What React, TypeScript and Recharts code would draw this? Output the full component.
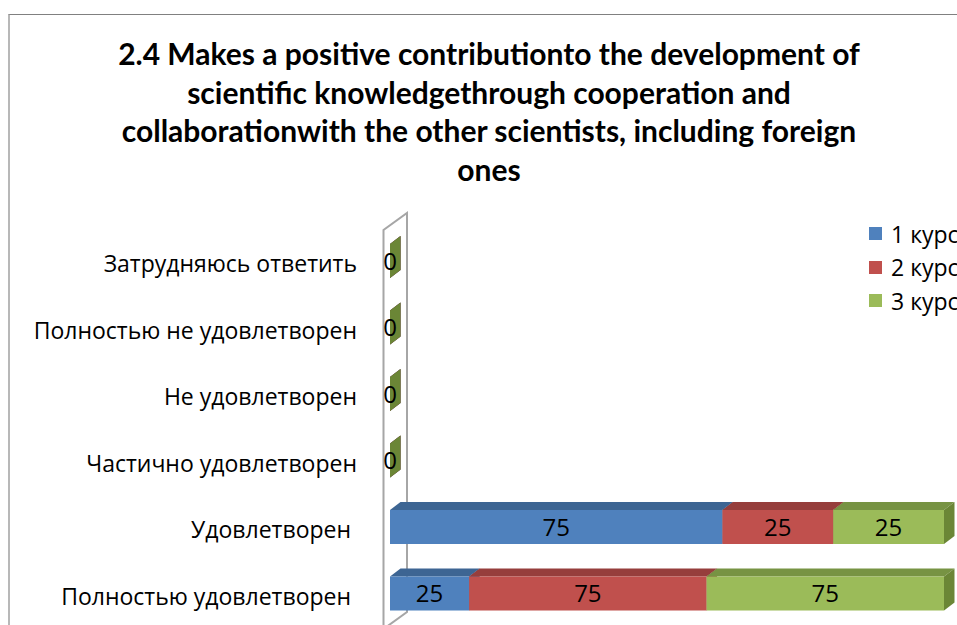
import React from 'react';
import { BarChart, Bar, XAxis, YAxis, LabelList, ReferenceArea } from 'recharts';

const categories = [
  'Затрудняюсь ответить',
  'Полностью не удовлетворен',
  'Не удовлетворен',
  'Частично удовлетворен',
  'Удовлетворен\u00a0',
  'Полностью удовлетворен\u00a0',
];
const course1 = [0, 0, 0, 0, 75, 25];
const course2 = [0, 0, 0, 0, 25, 75];
const course3 = [0, 0, 0, 0, 25, 75];
const seriesNames = ['1 курс', '2 курс', '3 курс'];
const titleLines = [
  '2.4 Makes a positive contributionto the development of',
  'scientific knowledgethrough cooperation and',
  'collaborationwith the other scientists, including foreign',
  'ones',
];

const frontColors = ['#4f81bd', '#c0504d', '#9bbb59'];
const topColors = ['#3d6593', '#963e3c', '#779343'];
const sideColors = ['#3a5f8c', '#8c3a38', '#6b8636'];

const data = categories.map((name, i) => ({
  name,
  c1: course1[i],
  c2: course2[i],
  c3: course3[i],
}));

const FONT = '"Open Sans", "DejaVu Sans", sans-serif';
const DX = 10.5;
const DY = 8;

const make3D = (idx: number) => (props: any) => {
  const { x, y, width, height } = props;
  if (x == null || y == null || isNaN(x) || isNaN(y)) return <g />;
  const w = Math.max(0, width || 0);
  const h = height || 0;
  return (
    <g>
      <polygon
        points={`${x},${y} ${x + DX},${y - DY} ${x + w + DX},${y - DY} ${x + w},${y}`}
        fill={topColors[idx]}
      />
      <polygon
        points={`${x + w},${y} ${x + w + DX},${y - DY} ${x + w + DX},${y + h - DY} ${x + w},${y + h}`}
        fill={sideColors[idx]}
      />
      <rect x={x} y={y} width={w} height={h} fill={frontColors[idx]} />
    </g>
  );
};

const Wall = (props: any) => {
  const { x, y, height } = props;
  if (x == null || y == null) return <g />;
  const fx = x - 6.5;
  const bx = x + 17;
  const ft = y + 2;
  const bt = y - 15;
  const fb = y + height + 2;
  const bb = y + height - 15;
  return (
    <path
      d={`M${fx},${fb} L${fx},${ft} L${bx},${bt} L${bx},${bb} L${fx},${fb}`}
      fill="#ffffff"
      stroke="#a6a6a6"
      strokeWidth={2}
    />
  );
};

const keys = ['c1', 'c2', 'c3'];

export default function App() {
  return (
    <div
      style={{
        position: 'fixed',
        left: 0,
        top: 0,
        width: 957,
        height: 625,
        overflow: 'hidden',
        background: '#ffffff',
      }}
    >
      <div
        style={{
          position: 'absolute',
          left: 8,
          top: 14,
          width: 1200,
          height: 900,
          borderTop: '1px solid #808080',
          borderLeft: '2px solid #b8b8b8',
        }}
      />
      <svg
        style={{ position: 'absolute', left: 0, top: 0 }}
        width={957}
        height={200}
      >
        {titleLines.map((t, i) => (
          <text
            key={i}
            x={489}
            y={65 + i * 38.5}
            textAnchor="middle"
            fontFamily='Lato, "Open Sans", sans-serif'
            fontWeight={700}
            fontSize={30}
            fill="#000"
          >
            {t}
          </text>
        ))}
      </svg>
      <div style={{ position: 'absolute', left: 0, top: 0 }}>
        <BarChart
          width={1000}
          height={660}
          data={data}
          layout="vertical"
          stackOffset="expand"
          barSize={34}
          margin={{ top: 228, right: 56, bottom: 33, left: 0 }}
          style={{ fontFamily: FONT }}
        >
          <XAxis type="number" domain={[0, 1]} hide />
          <YAxis
            type="category"
            dataKey="name"
            width={390}
            axisLine={false}
            tickLine={false}
            tickSize={0}
            tickMargin={33}
            interval={0}
            tick={{ fill: '#000', fontSize: 23, fontFamily: FONT, dy: 3 }}
          />
          <ReferenceArea x1={0} x2={1} ifOverflow="visible" shape={Wall} />
          {keys.map((k, idx) => (
            <Bar
              key={k}
              dataKey={k}
              name={seriesNames[idx]}
              stackId="a"
              isAnimationActive={false}
              shape={make3D(idx)}
            >
              <LabelList
                dataKey={k}
                position="center"
                fill="#000"
                fontSize={24}
                fontFamily={FONT}
                formatter={(v: any) => (idx < 2 && v === 0 ? '' : v)}
              />
            </Bar>
          ))}
        </BarChart>
      </div>
      <div
        style={{
          position: 'absolute',
          left: 869,
          top: 217,
          fontFamily: FONT,
          fontSize: 23,
          color: '#000',
          whiteSpace: 'nowrap',
        }}
      >
        {seriesNames.map((n, i) => (
          <div
            key={n}
            style={{ display: 'flex', alignItems: 'center', height: 33.5 }}
          >
            <span
              style={{
                display: 'inline-block',
                width: 13,
                height: 13,
                background: frontColors[i],
                marginRight: 9,
              }}
            />
            <span>{n}</span>
          </div>
        ))}
      </div>
    </div>
  );
}
